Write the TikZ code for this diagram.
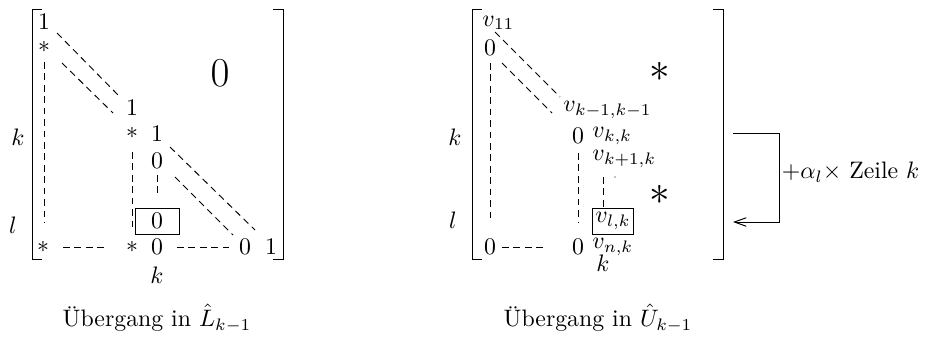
\documentclass[tikz,border=0pt]{standalone}
\usetikzlibrary{positioning,arrows.meta}
\begin{document}
\begin{tikzpicture}[x=0.42pt,y=-0.42pt,
  ent/.style={inner sep=0pt},
  dl/.style={dash pattern=on 2.8pt off 2pt},
  big/.style={inner sep=0pt,font=\LARGE},
  boxed/.style={draw,inner sep=0pt,minimum height=26*0.42pt}]
\useasboundingbox (0,0) rectangle (928,338);
% left matrix
\draw (42,9) -- (32,9) -- (32,259) -- (42,259);
\draw (273,9) -- (283,9) -- (283,259) -- (273,259);
\node[ent] (l11) at (44,22) {$1$};
\node[ent] (l21) at (44,47) {$*$};
\node[ent] (lmm) at (132,108) {$1$};
\node[ent] (lkm) at (132,133) {$*$};
\node[ent] (lkk) at (157,134) {$1$};
\node[ent] (lk1) at (157,161) {$0$};
\node[boxed,minimum width=44*0.42pt] (llk) at (157,221) {$0$};
\node[ent] (ln1) at (43,247) {$*$};
\node[ent] (lnm) at (132,247) {$*$};
\node[ent] (lnk) at (157,247) {$0$};
\node[ent] (lnn1) at (245,247) {$0$};
\node[ent] (lnn) at (271,247) {$1$};
\node[ent] (lkb) at (157,275) {$k$};
\node[ent] (lkl) at (18,137) {$k$};
\node[ent] (lll) at (13,225) {$l$};
\node[big] (lnull) at (220,73) {$0$};
\coordinate (p1) at (57,33) ;\coordinate (p2) at (120,97) ;
\coordinate (p3) at (62,63) ;\coordinate (p4) at (113,113) ;
\coordinate (p5) at (44,62) ;\coordinate (p6) at (44,223) ;
\coordinate (p7) at (132,152) ;\coordinate (p8) at (132,230) ;
\coordinate (p9) at (157,175) ;\coordinate (p10) at (157,197) ;
\coordinate (p11) at (170,147) ;\coordinate (p12) at (255,230) ;
\coordinate (p13) at (175,177) ;\coordinate (p14) at (233,235) ;
\coordinate (p15) at (63,247) ;\coordinate (p16) at (108,247) ;
\coordinate (p17) at (177,247) ;\coordinate (p18) at (233,247) ;
\draw[dl] (p1) -- (p2);
\draw[dl] (p3) -- (p4);
\draw[dl] (p5) -- (p6);
\draw[dl] (p7) -- (p8);
\draw[dl] (p9) -- (p10);
\draw[dl] (p11) -- (p12);
\draw[dl] (p13) -- (p14);
\draw[dl] (p15) -- (p16);
\draw[dl] (p17) -- (p18);
\node (lcap) at (157,318) {Übergang in $\hat{L}_{k-1}$};
% right matrix
\draw (482,9) -- (472,9) -- (472,259) -- (482,259);
\draw (713,9) -- (723,9) -- (723,259) -- (713,259);
\node[ent,anchor=west] (v11) at (482,23) {$v_{11}$};
\node[ent] (r21) at (490,48) {$0$};
\node[ent,anchor=west] (vmm) at (563,110) {$v_{k-1,k-1}$};
\node[ent] (rkm) at (578,136) {$0$};
\node[ent,anchor=west] (vkk) at (592,136) {$v_{k,k}$};
\node[ent,anchor=west] (vk1) at (592,159) {$v_{k+1,k}$};
\node[boxed,minimum width=41*0.42pt] (vlk) at (613,221) {$v_{l,k}$};
\node[ent] (rn1) at (490,247) {$0$};
\node[ent] (rnm) at (578,247) {$0$};
\node[ent,anchor=west] (vnk) at (592,247) {$v_{n,k}$};
\node[ent] (rkb) at (603,263) {$k$};
\node[ent] (rkl) at (455,137) {$k$};
\node[ent] (rll) at (453,220) {$l$};
\node[big] (rst1) at (660,72) {$*$};
\node[big] (rst2) at (660,195) {$*$};
\fill (615,177) circle (0.3pt);
\coordinate (q1) at (495,32) ;\coordinate (q2) at (560,97) ;
\coordinate (q3) at (502,63) ;\coordinate (q4) at (552,113) ;
\coordinate (q5) at (490,63) ;\coordinate (q6) at (490,222) ;
\coordinate (q7) at (578,153) ;\coordinate (q8) at (578,222) ;
\coordinate (q9) at (603,177) ;\coordinate (q10) at (vlk.north-|q9) ;
\coordinate (q11) at (502,247) ;\coordinate (q12) at (547,247) ;
\draw[dl] (q1) -- (q2);
\draw[dl] (q3) -- (q4);
\draw[dl] (q5) -- (q6);
\draw[dl] (q7) -- (q8);
\draw[dl] (q9) -- (q10);
\draw[dl] (q11) -- (q12);
\node (rcap) at (598,318) {Übergang in $\hat{U}_{k-1}$};
% row operation
\coordinate (a1) at (733,133) ;\coordinate (a2) at (779,133) ;
\coordinate (a3) at (779,222) ;\coordinate (a4) at (733,222) ;
\draw[-{Straight Barb[length=5pt,width=3.6pt]}] (a1) -- (a2) -- (a3) -- (a4);
\node[anchor=west,inner sep=1pt] (zeile) at (a2|-0,172) {$+\alpha_l\times$ Zeile $k$};
\end{tikzpicture}
\end{document}
